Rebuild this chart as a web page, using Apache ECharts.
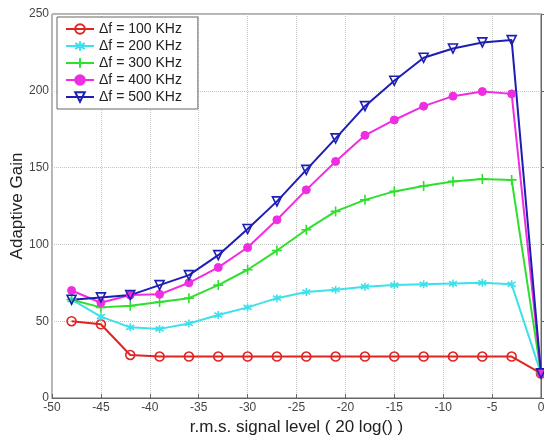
<!DOCTYPE html>
<html>
<head>
<meta charset="utf-8">
<script src="https://cdn.jsdelivr.net/npm/echarts@6/dist/echarts.min.js"></script>
<style>
  html, body { margin: 0; padding: 0; background: #fff; }
  #chart { width: 544px; height: 436px; }
</style>
</head>
<body>
<div id="chart"></div>
<script>
// signal level (dB)
var levels = [-48, -45, -42, -39, -36, -33, -30, -27, -24, -21, -18, -15, -12, -9, -6, -3, 0];

var names = ['\u0394f = 100 KHz', '\u0394f = 200 KHz', '\u0394f = 300 KHz', '\u0394f = 400 KHz', '\u0394f = 500 KHz'];

var gain100 = [50, 48, 28, 27, 27, 27, 27, 27, 27, 27, 27, 27, 27, 27, 27, 27, 16];
var gain200 = [64, 53, 46, 45, 48.5, 54, 59, 65, 69, 70.5, 72.5, 73.5, 74, 74.5, 75, 74, 16];
var gain300 = [64, 59, 60, 62.5, 65, 73.5, 83.5, 96, 109.5, 121.5, 129, 134.5, 138, 141, 142.5, 142, 16];
var gain400 = [70, 62, 67, 67.5, 75, 85, 98, 116, 135.5, 154, 171, 181, 190, 196.5, 199.5, 198, 16];
var gain500 = [64, 65.5, 67, 73.5, 80, 93, 110, 128, 148.5, 169, 190, 206.5, 221.5, 227.5, 231.5, 233, 16];

var xTicks = [-50, 0, 5];   // min, max, interval
var yTicks = [0, 250, 50];

function pairs(vals) {
  var out = [];
  for (var i = 0; i < levels.length; i++) out.push([levels[i], vals[i]]);
  return out;
}

var chart = echarts.init(document.getElementById('chart'));

function mk(name, vals, color, symbol, opts) {
  var s = {
    name: name,
    type: 'line',
    data: pairs(vals),
    color: color,
    symbol: symbol,
    symbolSize: 9,
    lineStyle: { color: color, width: 2 },
    itemStyle: { color: 'rgba(255,255,255,0)', borderColor: color, borderWidth: 1.6 },
    emphasis: { disabled: true },
    animation: false
  };
  for (var k in opts) s[k] = opts[k];
  return s;
}

var option = {
  backgroundColor: '#fff',
  animation: false,
  grid: {
    left: 52, right: 3, top: 14, bottom: 38,
    outerBoundsMode: 'none', containLabel: false,
    show: true, borderColor: '#666', borderWidth: 1
  },
  legend: {
    orient: 'vertical',
    left: 57, top: 17,
    data: names,
    itemWidth: 28, itemHeight: 12, itemGap: 3,
    padding: [5, 16, 5, 8],
    borderColor: '#666', borderWidth: 1,
    backgroundColor: '#fff',
    textStyle: { fontFamily: 'Liberation Sans, Arial', fontSize: 14, color: '#222' }
  },
  xAxis: {
    type: 'value',
    min: xTicks[0], max: xTicks[1], interval: xTicks[2],
    name: 'r.m.s. signal level ( 20 log() )',
    nameLocation: 'middle', nameGap: 19,
    nameTextStyle: { fontFamily: 'Liberation Sans, Arial', fontSize: 17, color: '#222' },
    axisLine: { lineStyle: { color: '#666' } },
    axisTick: { inside: true, length: 4, lineStyle: { color: '#666' } },
    axisLabel: { fontFamily: 'Liberation Sans, Arial', fontSize: 12, color: '#444', margin: 4 },
    splitLine: { show: true, lineStyle: { type: 'dotted', color: '#c4c4c4' } }
  },
  yAxis: {
    type: 'value',
    min: yTicks[0], max: yTicks[1], interval: yTicks[2],
    name: 'Adaptive Gain',
    nameLocation: 'middle', nameGap: 26, nameMoveOverlap: false,
    nameTextStyle: { fontFamily: 'Liberation Sans, Arial', fontSize: 17, color: '#222' },
    axisLine: { show: true, lineStyle: { color: '#666' } },
    axisTick: { show: true, inside: true, length: 4, lineStyle: { color: '#666' } },
    axisLabel: { fontFamily: 'Liberation Sans, Arial', fontSize: 12, color: '#444', margin: 3 },
    splitLine: { show: true, lineStyle: { type: 'dotted', color: '#c4c4c4' } }
  },
  series: [
    mk(names[0], gain100, '#e02424', 'circle', { symbolSize: 9 }),
    mk(names[1], gain200, '#3ee0ea', 'path://M5,0 L5,10 M0,2 L10,8 M0,8 L10,2', { symbolSize: 8 }),
    mk(names[2], gain300, '#2ee02e', 'path://M5,0 L5,10 M0,5 L10,5', { symbolSize: 10 }),
    mk(names[3], gain400, '#ee2ee0', 'circle', {
      symbolSize: 8,
      itemStyle: { color: '#ee2ee0', borderColor: '#ee2ee0', borderWidth: 1 }
    }),
    mk(names[4], gain500, '#1e1eb4', 'triangle', { symbolSize: 9, symbolRotate: 180 })
  ]
};

chart.setOption(option);
</script>
</body>
</html>
